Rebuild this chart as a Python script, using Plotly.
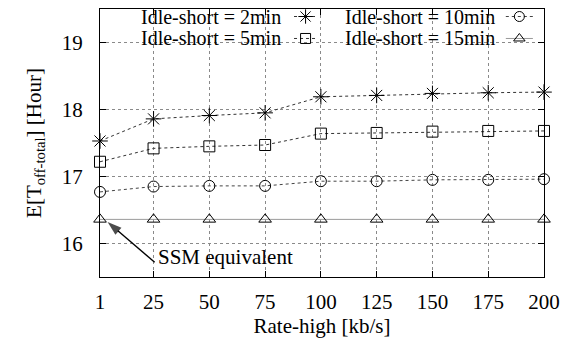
import plotly.graph_objects as go

# Rate-high values (kb/s)
rate_high = [1, 25, 50, 75, 100, 125, 150, 175, 200]

# Expected total off time [hours] for each idle-short timer
idle_2min = [17.53, 17.86, 17.91, 17.95, 18.19, 18.21, 18.24, 18.25, 18.26]
idle_5min = [17.22, 17.42, 17.45, 17.47, 17.64, 17.65, 17.67, 17.68, 17.68]
idle_10min = [16.77, 16.85, 16.86, 16.86, 16.93, 16.93, 16.95, 16.95, 16.96]
idle_15min = [16.36, 16.36, 16.36, 16.36, 16.36, 16.36, 16.36, 16.36, 16.36]

series_names = ["Idle-short = 2min", "Idle-short = 5min",
                "Idle-short = 10min", "Idle-short = 15min"]
x_ticks = [1, 25, 50, 75, 100, 125, 150, 175, 200]
y_ticks = [16, 17, 18, 19]

FONT = "Liberation Serif, Times New Roman, serif"
FS = 21
KEY_FS = 20

styles = [
    dict(symbol="asterisk-open", size=13, dash="dot", lcolor="#333333"),
    dict(symbol="square-open", size=11, dash="dot", lcolor="#333333"),
    dict(symbol="circle-open", size=11, dash="dot", lcolor="#444444"),
    dict(symbol="triangle-up-open", size=11, dash="solid", lcolor="#9a9a9a"),
]

fig = go.Figure()

for name, vals, st in zip(series_names,
                          [idle_2min, idle_5min, idle_10min, idle_15min],
                          styles):
    fig.add_trace(go.Scatter(
        x=rate_high, y=vals, name=name, mode="lines+markers",
        line=dict(color=st["lcolor"], width=1, dash=st["dash"]),
        marker=dict(symbol=st["symbol"], size=st["size"], color="black",
                    line=dict(color="black", width=1)),
        showlegend=False, cliponaxis=False,
    ))

# Key: text right-aligned, followed by a short line sample with its marker
key_rows = [0.972, 0.890, 0.972, 0.890]
key_text_x = [0.409, 0.409, 0.893, 0.893]
key_seg = [(0.437, 0.489), (0.437, 0.489), (0.914, 0.975), (0.914, 0.975)]
for name, st, ky, tx, (s0, s1) in zip(series_names, styles, key_rows,
                                       key_text_x, key_seg):
    fig.add_annotation(x=tx, y=ky, xref="paper", yref="paper", text=name,
                       showarrow=False, xanchor="right", yanchor="middle",
                       borderpad=0,
                       font=dict(family=FONT, size=KEY_FS, color="black"))
    fig.add_trace(go.Scatter(
        x=[s0, s1], y=[ky, ky], xaxis="x2", yaxis="y2", mode="lines",
        line=dict(color=st["lcolor"], width=1, dash=st["dash"]),
        showlegend=False, hoverinfo="skip"))
    fig.add_trace(go.Scatter(
        x=[(s0 + s1) / 2], y=[ky], xaxis="x2", yaxis="y2", mode="markers",
        marker=dict(symbol=st["symbol"], size=st["size"] - 1, color="black",
                    line=dict(color="black", width=1)),
        showlegend=False, hoverinfo="skip"))

# White box behind the key hides the grid there
fig.add_shape(type="rect", xref="paper", yref="paper",
              x0=0.03, x1=0.995, y0=0.855, y1=0.999,
              fillcolor="white", line=dict(width=0), layer="between")

# Arrow pointing to the SSM-equivalent point
fig.add_trace(go.Scatter(
    x=[25.5, 4.4], y=[15.72, 16.32], mode="lines+markers",
    line=dict(color="black", width=1.4),
    marker=dict(symbol=["circle", "arrow"], size=[0, 15], angleref="previous",
                color="black", line=dict(width=0)),
    showlegend=False, hoverinfo="skip", cliponaxis=False))
fig.add_annotation(x=26, y=15.80, xref="x", yref="y", text="SSM equivalent",
                   showarrow=False, xanchor="left", yanchor="middle",
                   font=dict(family=FONT, size=FS, color="black"))

axis_common = dict(
    showline=True, linecolor="black", linewidth=1.3, mirror="ticks",
    ticks="inside", ticklen=6, tickcolor="black", tickwidth=1,
    showgrid=True, gridcolor="#8a8a8a", gridwidth=1, griddash="dot",
    zeroline=False, tickfont=dict(family=FONT, size=FS, color="black"),
)

fig.update_layout(
    width=574, height=345,
    margin=dict(l=100, r=30, t=9, b=68),
    paper_bgcolor="white", plot_bgcolor="white",
    font=dict(family=FONT, size=FS, color="black"),
    xaxis=dict(range=[1, 200], tickvals=x_ticks, ticklabelstandoff=6,
               title=dict(text="Rate-high [kb/s]", standoff=1,
                          font=dict(family=FONT, size=FS)),
               **axis_common),
    yaxis=dict(range=[15.5, 19.5], tickvals=y_ticks, ticklabelstandoff=12,
               title=dict(text="E[T<sub>off-total</sub>] [Hour]", standoff=14,
                          font=dict(family=FONT, size=FS)),
               **axis_common),
    xaxis2=dict(overlaying="x", range=[0, 1], visible=False),
    yaxis2=dict(overlaying="y", range=[0, 1], visible=False),
)

fig.write_html("out.html")
